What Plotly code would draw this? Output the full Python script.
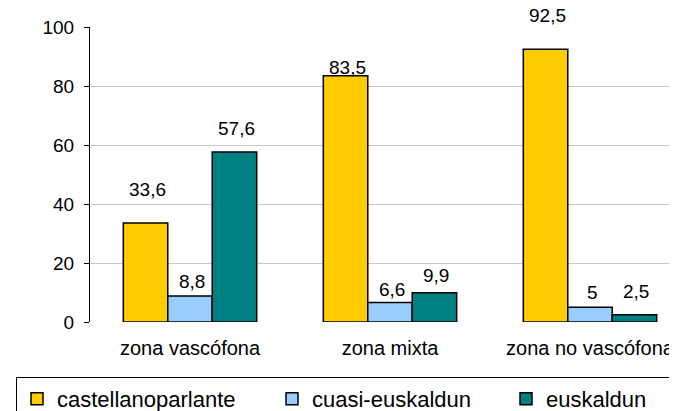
import plotly.graph_objects as go

zonas = ["zona vascófona", "zona mixta", "zona no vascófona"]
series = ["castellanoparlante", "cuasi-euskaldun", "euskaldun"]
castellanoparlante = [33.6, 83.5, 92.5]
cuasi_euskaldun = [8.8, 6.6, 5]
euskaldun = [57.6, 9.9, 2.5]
y_ticks = [0, 20, 40, 60, 80, 100]

values = [castellanoparlante, cuasi_euskaldun, euskaldun]
colors = ["#FFCC00", "#99CCFF", "#008080"]
# label distance above bar top, in px (as placed in the original)
label_shift = [
    [33, 8, 34],
    [15, 13, 15],
    [24, 17, 23],
]
legend_widths = [210, 189, 118]

x_pos = list(range(len(zonas)))
bar_w = 0.667 / 3

# page has an 8px body margin, so the figure is laid out 8px up/left
ml, mt, mb = 82, 19, 97
plot_h = 411 - mt - mb

fig = go.Figure()
for k, (name, vals, col) in enumerate(zip(series, values, colors)):
    fig.add_trace(go.Bar(
        x=x_pos, y=vals, name=name,
        marker=dict(color=col, line=dict(color="black", width=1.5)),
        legendwidth=legend_widths[k],
    ))
    for i, v in enumerate(vals):
        fig.add_annotation(
            x=i + (k - 1) * bar_w, y=v, xref="x", yref="y",
            text=f"{v:g}".replace(".", ","), showarrow=False,
            yanchor="middle", yshift=label_shift[k][i], xshift=2,
            font=dict(size=19, color="black"),
        )

fig.update_layout(
    width=677, height=411,
    margin=dict(l=ml, r=0, t=mt, b=mb, autoexpand=False),
    paper_bgcolor="white", plot_bgcolor="white",
    font=dict(family="Liberation Sans, Arial, sans-serif", color="black"),
    barmode="group", bargap=0.333, bargroupgap=0,
    xaxis=dict(
        range=[-0.5, 2.475], tickvals=x_pos, ticktext=zonas,
        showgrid=False, showline=False, ticks="", zeroline=False,
        tickfont=dict(size=20), ticklabelstandoff=12,
    ),
    yaxis=dict(
        range=[0, 100], tickvals=y_ticks, showgrid=True, gridcolor="#C8C8C8",
        gridwidth=1, showline=True, linecolor="black", linewidth=1,
        ticks="outside", ticklen=5, tickcolor="black", zeroline=False,
        tickfont=dict(size=19), ticklabelstandoff=6,
    ),
    showlegend=True,
    legend=dict(
        orientation="h", x=(8 - ml) / (677 - ml), y=-(369 - 314) / plot_h,
        xanchor="left", yanchor="top",
        bordercolor="black", borderwidth=1, bgcolor="white",
        font=dict(size=22), traceorder="normal",
    ),
)

fig.write_html("out.html")
